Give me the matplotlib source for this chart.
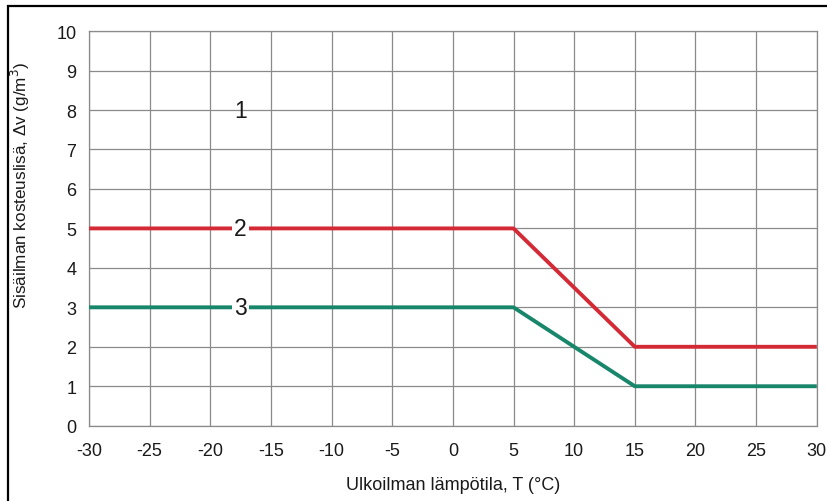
import matplotlib.pyplot as plt
from matplotlib.patches import Rectangle

plt.rcParams['font.family'] = ['Liberation Sans', 'DejaVu Sans']

# outdoor temperature (°C) and moisture excess (g/m3)
temp = [-30, 5, 15, 30]
curve2 = [5, 5, 2, 2]
curve3 = [3, 3, 1, 1]

x_ticks = list(range(-30, 31, 5))
y_ticks = list(range(0, 11))

# class labels: (text, x, y)
class_labels = [('1', -17.5, 8), ('2', -17.5, 5), ('3', -17.5, 3)]

red = '#d42a36'
green = '#17866a'
grid_col = '#8a8a8a'

fig = plt.figure(figsize=(8.27, 5.02), dpi=100)
ax = fig.add_axes([0.1076, 0.150, 0.880, 0.786])

ax.plot(temp, curve2, color=red, lw=2.8, solid_capstyle='butt', zorder=3)
ax.plot(temp, curve3, color=green, lw=2.8, solid_capstyle='butt', zorder=3)

for txt, x, y in class_labels:
    bg = dict(facecolor='white', edgecolor='none', pad=1.5) if txt != '1' else None
    ax.text(x, y, txt, fontsize=16.5, ha='center', va='center', color='#1a1a1a',
            bbox=bg, zorder=4)

ax.set_xlim(-30, 30)
ax.set_ylim(0, 10)
ax.set_xticks(x_ticks)
ax.set_yticks(y_ticks)
ax.set_xticklabels([str(v) for v in x_ticks])
ax.grid(True, color=grid_col, lw=0.9)
ax.tick_params(length=0, labelsize=13, colors='#1a1a1a')
ax.tick_params(axis='x', pad=12)
ax.tick_params(axis='y', pad=9)
for s in ax.spines.values():
    s.set_color(grid_col)
    s.set_linewidth(0.9)

ax.set_xlabel('Ulkoilman lämpötila, T (°C)', fontsize=13, color='#1a1a1a', labelpad=12)
ax.set_ylabel('Sisäilman kosteuslisä, Δv (g/m$^3$)', fontsize=12.3, color='#1a1a1a')
ax.yaxis.label.set_va('center')
ax.yaxis.set_label_coords(-0.094, 0.612)

# outer frame, cut off at right and bottom
fig.patches.append(Rectangle((8 / 827, -0.1), 1.2, 1 - 7 / 502 + 0.1,
                             transform=fig.transFigure, fill=False,
                             edgecolor='black', lw=1.6))

fig.savefig('out.png', dpi=100)
